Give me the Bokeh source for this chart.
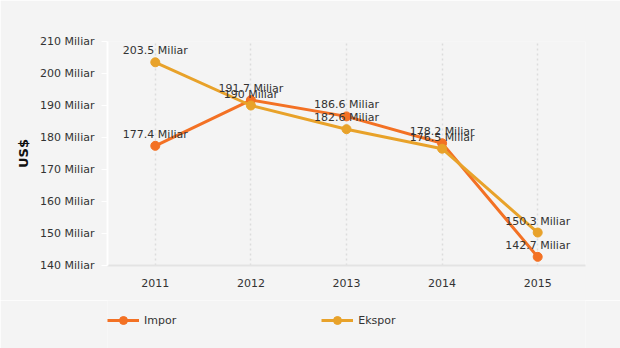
from bokeh.plotting import figure
from bokeh.layouts import column
from bokeh.models import FactorRange, Range1d, FixedTicker, Legend, LegendItem, ColumnDataSource
from bokeh.embed import file_html
from bokeh.resources import INLINE
from bokeh.core.properties import value

years = ["2011", "2012", "2013", "2014", "2015"]
impor = [177.4, 191.7, 186.6, 178.2, 142.7]
ekspor = [203.5, 190.0, 182.6, 176.5, 150.3]
y_ticks = [140, 150, 160, 170, 180, 190, 200, 210]
series_names = ["Impor", "Ekspor"]

C_IMP = "#F37124"
C_EKS = "#E8A22A"
FONT = "DejaVu Sans"
BG = "#f4f4f4"

def fmt(v):
    s = ("%.1f" % v).rstrip("0").rstrip(".")
    return s + " Miliar"

p = figure(width=620, height=300, x_range=FactorRange(*years), y_range=Range1d(140, 210),
           output_backend="svg", toolbar_location=None,
           background_fill_color=BG, border_fill_color=BG,
           min_border_left=107, min_border_right=35, min_border_top=41, min_border_bottom=35)
p.outline_line_color = None

src_i = ColumnDataSource(dict(x=years, y=impor, t=[fmt(v) for v in impor]))
src_e = ColumnDataSource(dict(x=years, y=ekspor, t=[fmt(v) for v in ekspor]))

p.line("x", "y", source=src_i, line_color=C_IMP, line_width=3)
p.scatter("x", "y", source=src_i, size=9, fill_color=C_IMP, line_color=C_IMP)
p.line("x", "y", source=src_e, line_color=C_EKS, line_width=3)
p.scatter("x", "y", source=src_e, size=9, fill_color=C_EKS, line_color=C_EKS)

for src in (src_i, src_e):
    p.text("x", "y", text="t", source=src, text_align="center", text_baseline="bottom",
           y_offset=-5, text_font=value(FONT), text_font_size="11px", text_color="#333333")

# axes
p.yaxis.ticker = FixedTicker(ticks=y_ticks)
p.yaxis.major_label_overrides = {t: "%d Miliar" % t for t in y_ticks}
p.yaxis.axis_line_color = "white"
p.yaxis.axis_line_width = 2
p.yaxis.major_tick_line_color = "white"
p.yaxis.major_tick_out = 6
p.yaxis.major_tick_in = 0
p.yaxis.minor_tick_line_color = None
p.yaxis.major_label_standoff = 7
p.yaxis.major_label_text_font = FONT
p.yaxis.major_label_text_font_size = "11px"
p.yaxis.major_label_text_color = "#333333"
p.yaxis.axis_label = "US$"
p.yaxis.axis_label_text_font = FONT
p.yaxis.axis_label_text_font_size = "13px"
p.yaxis.axis_label_text_font_style = "bold"
p.yaxis.axis_label_text_color = "#111111"
p.yaxis.axis_label_standoff = 6

p.xaxis.axis_line_color = "#e3e3e3"
p.xaxis.axis_line_width = 2
p.xaxis.major_tick_line_color = None
p.xaxis.major_tick_out = 0
p.xaxis.major_label_standoff = 13
p.xaxis.major_label_text_font = FONT
p.xaxis.major_label_text_font_size = "11px"
p.xaxis.major_label_text_color = "#333333"

p.ygrid.grid_line_color = None
p.xgrid.grid_line_color = "#dcdcdc"
p.xgrid.grid_line_dash = "2 3"
p.xgrid.grid_line_width = 1.5

# legend strip below the chart
p2 = figure(width=620, height=48, x_range=Range1d(0, 1), y_range=Range1d(0, 1),
            output_backend="svg", toolbar_location=None,
            background_fill_color=BG, border_fill_color=BG,
            min_border_left=0, min_border_right=0, min_border_top=0, min_border_bottom=0)
p2.outline_line_color = None
p2.axis.visible = False
p2.grid.visible = False

items = []
for name, col in zip(series_names, [C_IMP, C_EKS]):
    lr = p2.line(x=[5, 6], y=[5, 6], line_color=col, line_width=3)
    sr = p2.scatter(x=[5], y=[5], size=9, fill_color=col, line_color=col)
    items.append(LegendItem(label=name, renderers=[lr, sr]))

legend = Legend(items=items, orientation="horizontal", location=(0, 18),
                glyph_width=32, glyph_height=20, label_standoff=5, spacing=145,
                padding=0, margin=0, background_fill_alpha=0, border_line_alpha=0,
                label_text_font=FONT, label_text_font_size="11px", label_text_color="#333333")
p2.add_layout(legend)

layout = column(p, p2, spacing=0)
open("out.html", "w").write(file_html(layout, INLINE))
